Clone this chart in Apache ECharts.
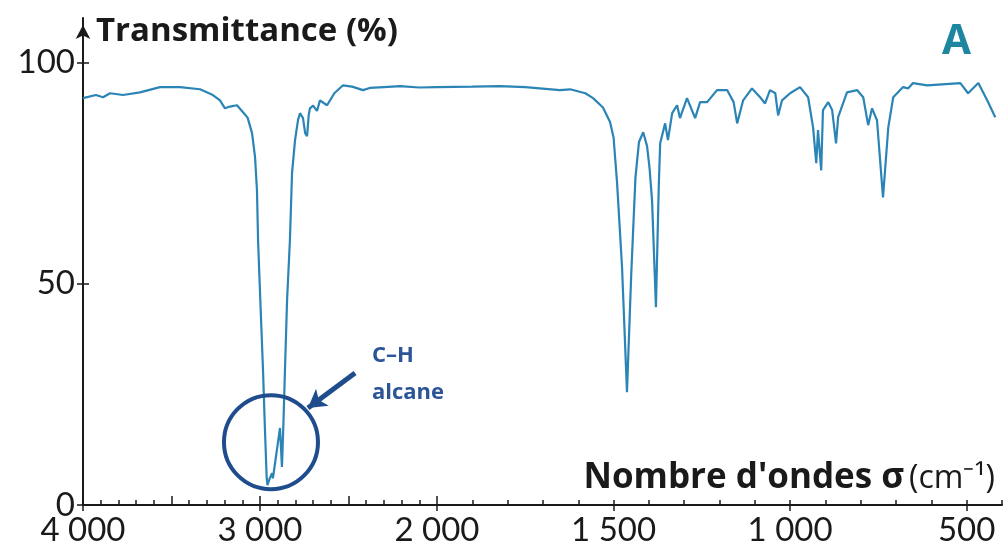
<!DOCTYPE html>
<html>
<head>
<meta charset="utf-8">
<script src="https://cdn.jsdelivr.net/npm/echarts@6/dist/echarts.min.js"></script>
<style>
html, body { margin: 0; padding: 0; background: #fff; }
#chart { width: 1003px; height: 555px; }
</style>
</head>
<body>
<div id="chart"></div>
<script>
// spectre IR, partie 4000 -> 2000 cm-1
var sigmaHigh = [4000, 3927, 3887, 3847, 3774, 3678, 3565, 3452, 3339, 3266, 3226, 3198, 3170, 3130, 3096, 3070, 3045, 3028, 3017, 3011,
  2997, 2983, 2972, 2962, 2958, 2945, 2932, 2927, 2887, 2876, 2868, 2859, 2847, 2831, 2819, 2802, 2785, 2774, 2757, 2745,
  2734, 2725, 2718, 2700, 2678, 2661, 2640, 2621, 2580, 2531, 2480, 2418, 2380, 2300, 2209, 2100, 2000];
var transHigh = [91.9, 92.6, 92.1, 93.0, 92.6, 93.2, 94.4, 94.4, 93.9, 92.6, 91.4, 89.6, 90.0, 90.3, 88.7, 87.5, 84.0, 78.6, 71.0, 59.8,
  45.0, 30.5, 17.0, 6.0, 4.5, 6.0, 7.2, 6.0, 17.4, 8.6, 18.0, 30.5, 46.3, 59.8, 75.0, 82.4, 87.0, 88.5, 87.4, 84.0,
  83.3, 88.0, 89.6, 90.2, 89.0, 91.4, 90.8, 90.3, 93.0, 94.8, 94.5, 93.7, 94.2, 94.4, 94.6, 94.3, 94.4];

// partie 2000 -> 400 cm-1
var sigmaLow = [2000, 1900, 1822, 1750, 1652, 1623, 1580, 1558, 1530, 1510, 1500, 1490, 1476, 1462, 1450, 1438, 1428, 1416, 1405, 1398,
  1391, 1380, 1372, 1368, 1354, 1346, 1334, 1320, 1312, 1292, 1269, 1255, 1235, 1207, 1178, 1160, 1150, 1133, 1108, 1085,
  1071, 1057, 1042, 1034, 1023, 1000, 972, 949, 935, 926, 921, 912, 907, 892, 881, 870, 864, 839, 810, 793,
  779, 768, 754, 737, 722, 708, 680, 666, 652, 612, 518, 496, 467, 442, 419];
var transLow = [94.4, 94.5, 94.6, 94.4, 93.7, 93.9, 93.0, 91.9, 89.8, 86.5, 83.0, 72.7, 53.7, 25.5, 52.0, 74.0, 82.0, 84.2, 81.0, 76.0,
  68.8, 44.7, 72.0, 81.7, 86.2, 82.4, 88.5, 90.3, 87.4, 91.9, 87.4, 91.0, 91.0, 93.7, 93.7, 91.0, 86.2, 91.4, 94.1, 92.1,
  90.7, 93.7, 93.0, 88.0, 91.4, 93.0, 94.4, 92.1, 85.3, 77.2, 84.7, 75.6, 89.2, 91.0, 89.2, 81.7, 87.6, 93.2, 93.7, 92.1,
  85.8, 89.6, 86.9, 69.5, 85.3, 92.1, 94.4, 94.1, 95.3, 94.8, 95.3, 93.0, 95.3, 91.4, 87.6];

var labelsHigh = [4000, 3000, 2000];
var labelsLow = [1500, 1000, 500];
var labelsY = [0, 50, 100];
var midTicksHigh = [4000, 3500, 3000, 2500, 2000];
var majorTicksLow = [2000, 1500, 1000, 500];

// annotation C-H
var circlePos = [2938, 14.2];
var arrowFrom = [2463, 29.8];
var arrowTo = [2729, 21.9];
var notePos = [2370, 29.6];

var ink = '#1a1a1a';
var font = 'Lato';
var headFont = 'Open Sans';
var navy = '#1f4c8c';
var trace = '#2a84b5';

function fmt(v) {
  return String(v).replace(/\B(?=(\d{3})+(?!\d))/g, ' ');
}
function zip(a, b) {
  return a.map(function (v, i) { return [v, b[i]]; });
}

var chart = echarts.init(document.getElementById('chart'));

var gridL = { left: 83, top: 18, width: 354, height: 487, outerBoundsMode: 'none' };
var gridR = { left: 437, top: 18, width: 565, height: 487, outerBoundsMode: 'none' };

function bareX(grid, min, max, tick) {
  return {
    type: 'value', gridIndex: grid, min: min, max: max, inverse: true,
    axisLine: { show: false }, axisLabel: { show: false }, splitLine: { show: false },
    axisTick: tick
  };
}
function bareY(grid) {
  return { type: 'value', gridIndex: grid, min: 0, max: 110, show: false };
}

var option = {
  animation: false,
  backgroundColor: '#fff',
  title: [
    { text: 'Transmittance (%)', left: 96, top: 15, padding: 0,
      textStyle: { fontFamily: headFont, fontWeight: 'bold', fontSize: 33, color: ink } },
    { text: 'A', right: 32, top: 21, padding: 0,
      textStyle: { fontFamily: headFont, fontWeight: 'bold', fontSize: 42, color: '#1e86a0' } },
    { text: '{b|Nombre d\'ondes σ} {n|(cm⁻¹)}', right: 8, top: 461, padding: 0,
      textStyle: {
        rich: {
          b: { fontFamily: headFont, fontWeight: 'bold', fontSize: 35, color: ink },
          n: { fontFamily: headFont, fontWeight: 'normal', fontSize: 32, color: ink }
        }
      } }
  ],
  grid: [gridL, gridL, gridL, gridR, gridR],
  xAxis: [
    {
      type: 'value', gridIndex: 0, min: 2000, max: 4000, inverse: true, interval: 100,
      axisLine: { lineStyle: { color: ink, width: 2 } },
      axisTick: { inside: true, length: 5, lineStyle: { color: ink, width: 1.5 } },
      axisLabel: { customValues: labelsHigh, formatter: fmt, fontFamily: font, fontSize: 33, color: ink, margin: 9 },
      splitLine: { show: false }
    },
    bareX(1, 2000, 4000, { inside: true, length: 9, customValues: midTicksHigh, lineStyle: { color: ink, width: 1.5 } }),
    bareX(2, 2000, 4000, { inside: false, length: 6, customValues: labelsHigh, lineStyle: { color: ink, width: 1.5 } }),
    {
      type: 'value', gridIndex: 3, min: 400, max: 2000, inverse: true, interval: 100,
      axisLine: { lineStyle: { color: ink, width: 2 } },
      axisTick: { inside: true, length: 5, lineStyle: { color: ink, width: 1.5 } },
      axisLabel: { customValues: labelsLow, formatter: fmt, fontFamily: font, fontSize: 33, color: ink, margin: 9 },
      splitLine: { show: false }
    },
    bareX(4, 400, 2000, { inside: false, length: 6, customValues: majorTicksLow, lineStyle: { color: ink, width: 1.5 } })
  ],
  yAxis: [
    {
      type: 'value', gridIndex: 0, min: 0, max: 110,
      axisLine: { show: true, symbol: ['none', 'arrow'], symbolSize: [11, 14], symbolOffset: [0, -7],
        lineStyle: { color: ink, width: 2 } },
      axisTick: { show: true, length: 6, customValues: labelsY, lineStyle: { color: ink, width: 1.5 } },
      axisLabel: { customValues: labelsY, fontFamily: font, fontSize: 33, color: ink, margin: 8 },
      splitLine: { show: false }
    },
    {
      type: 'value', gridIndex: 1, min: 0, max: 110,
      axisLine: { show: false }, axisLabel: { show: false }, splitLine: { show: false },
      axisTick: { show: true, inside: true, length: 6, customValues: labelsY, lineStyle: { color: ink, width: 1.5 } }
    },
    bareY(2), bareY(3), bareY(4)
  ],
  series: [
    {
      type: 'line', xAxisIndex: 0, yAxisIndex: 0,
      data: zip(sigmaHigh, transHigh),
      showSymbol: false, silent: true,
      lineStyle: { color: trace, width: 2.2 },
      markPoint: {
        silent: true,
        data: [
          { coord: circlePos, symbol: 'circle', symbolSize: 94,
            itemStyle: { color: 'rgba(0,0,0,0)', borderColor: navy, borderWidth: 4 },
            label: { show: false } },
          { coord: notePos, symbol: 'circle', symbolSize: 1,
            itemStyle: { color: 'rgba(0,0,0,0)' },
            label: { show: true, position: 'right', distance: 0, formatter: 'C–H\nalcane',
              fontFamily: headFont, fontWeight: 'bold', fontSize: 22, lineHeight: 37, color: '#2b5597' } }
        ]
      },
      markLine: {
        silent: true,
        symbol: ['none', 'arrow'],
        symbolSize: [16, 18],
        label: { show: false },
        lineStyle: { color: navy, width: 5, type: 'solid' },
        data: [[{ coord: arrowFrom }, { coord: arrowTo }]]
      }
    },
    {
      type: 'line', xAxisIndex: 3, yAxisIndex: 3,
      data: zip(sigmaLow, transLow),
      showSymbol: false, silent: true,
      lineStyle: { color: trace, width: 2.2 }
    }
  ]
};

chart.setOption(option);
window.addEventListener('resize', chart.resize);
</script>
</body>
</html>
